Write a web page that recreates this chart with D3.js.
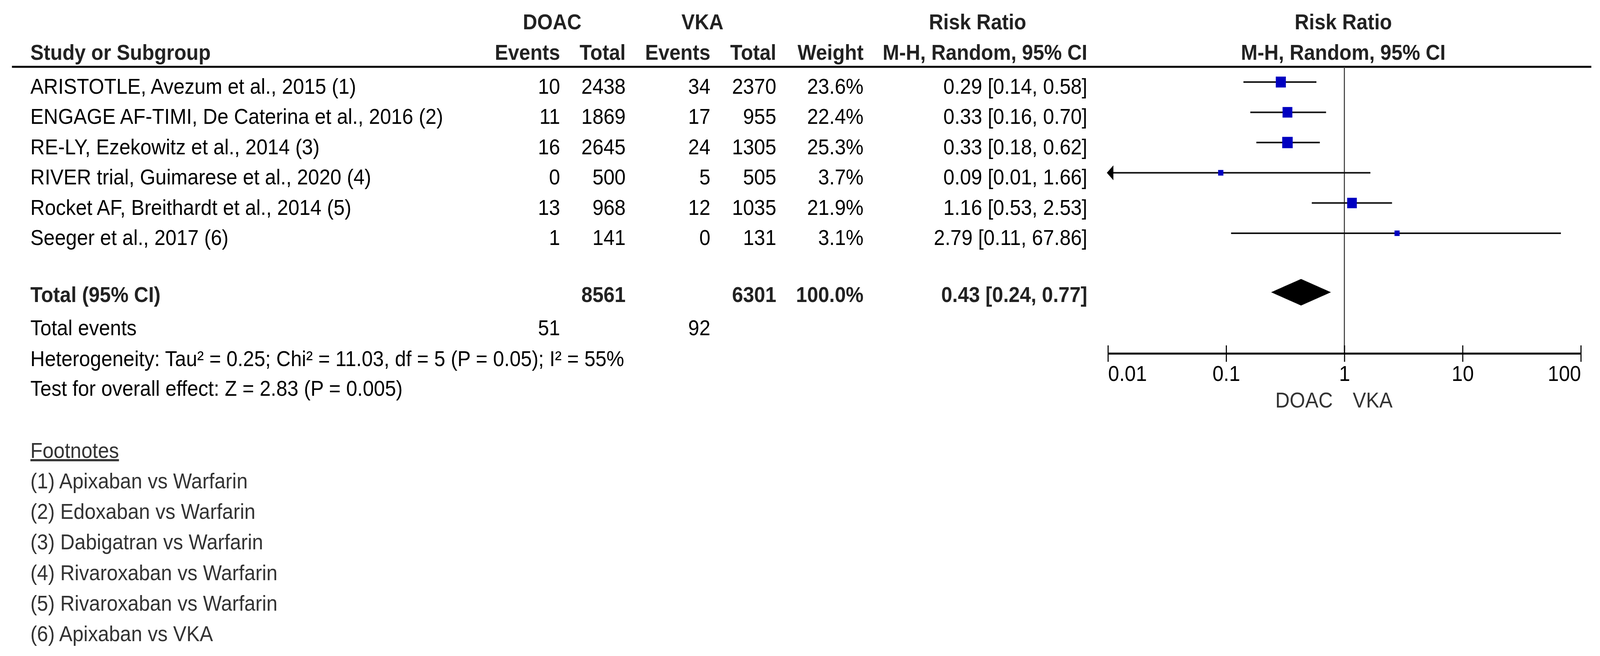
<!DOCTYPE html>
<html>
<head>
<meta charset="utf-8">
<script src="https://cdn.jsdelivr.net/npm/d3@7"></script>
<style>
  html, body { margin: 0; padding: 0; background: #fff; overflow: hidden; width: 100%; height: 100%; }
  #chart { width: 100vw; height: 100vh; }
  svg { display: block; }
  svg text { font-family: "Liberation Sans", Arial, sans-serif; font-size: 55px; fill: #000; }
  svg text.bold { font-weight: bold; fill: #222; }
  svg text.note { fill: #333; }
</style>
</head>
<body>
<div id="chart"></div>
<script>
const studies = [
  "ARISTOTLE, Avezum et al., 2015 (1)",
  "ENGAGE AF-TIMI, De Caterina et al., 2016 (2)",
  "RE-LY, Ezekowitz et al., 2014 (3)",
  "RIVER trial, Guimarese et al., 2020 (4)",
  "Rocket AF, Breithardt et al., 2014 (5)",
  "Seeger et al., 2017 (6)"
];
const doacEvents = [10, 11, 16, 0, 13, 1];
const doacTotal = [2438, 1869, 2645, 500, 968, 141];
const vkaEvents = [34, 17, 24, 5, 12, 0];
const vkaTotal = [2370, 955, 1305, 505, 1035, 131];
const weights = [23.6, 22.4, 25.3, 3.7, 21.9, 3.1];
const rr = [0.29, 0.33, 0.33, 0.09, 1.16, 2.79];
const rrLow = [0.14, 0.16, 0.18, 0.01, 0.53, 0.11];
const rrHigh = [0.58, 0.70, 0.62, 1.66, 2.53, 67.86];

const pooled = { rr: 0.43, low: 0.24, high: 0.77 };
const totalDoac = 8561, totalVka = 6301, totalWeight = "100.0%";
const eventsDoac = 51, eventsVka = 92;

const axisTicks = [0.01, 0.1, 1, 10, 100];
const heterogeneity = "Heterogeneity: Tau² = 0.25; Chi² = 11.03, df = 5 (P = 0.05); I² = 55%";
const overallEffect = "Test for overall effect: Z = 2.83 (P = 0.005)";
const footnotes = [
  "(1) Apixaban vs Warfarin",
  "(2) Edoxaban vs Warfarin",
  "(3) Dabigatran vs Warfarin",
  "(4) Rivaroxaban vs Warfarin",
  "(5) Rivaroxaban vs Warfarin",
  "(6) Apixaban vs VKA"
];

const W = 4419, H = 1679;
// drawn in reference pixel units, scaled to whatever the viewport is
const svg = d3.select("#chart").append("svg")
  .attr("viewBox", `0 0 ${W} ${H}`)
  .attr("preserveAspectRatio", "none")
  .attr("width", "100%").attr("height", "100%");
svg.append("rect").attr("width", W).attr("height", H).attr("fill", "#fff");

// column anchors (start for names, right edges for numbers)
const col = { name: 84, de: 1547, dt: 1728, ve: 1962, vt: 2144, w: 2385, rr: 3003 };

const x = d3.scaleLog().domain([0.01, 100]).range([3060, 4366]);
const y = d3.scaleLinear().domain([0, 5]).range([210, 597]);
const boxSize = d3.scaleLinear().domain([0, 25.3]).range([12, 29]);

const fmt2 = d3.format(".2f");
const ciText = (m, l, h) => `${fmt2(m)} [${fmt2(l)}, ${fmt2(h)}]`;

function txt(xp, yp, s, anchor, cls) {
  return svg.append("text")
    .attr("x", xp).attr("y", yp)
    .attr("text-anchor", anchor || "start")
    .attr("class", cls || null)
    .text(s);
}

// header
txt(1525, 75, "DOAC", "middle", "bold");
txt(1940, 75, "VKA", "middle", "bold");
txt(2700, 75, "Risk Ratio", "middle", "bold");
txt(3710, 75, "Risk Ratio", "middle", "bold");
txt(col.name, 153, "Study or Subgroup", "start", "bold");
txt(col.de, 153, "Events", "end", "bold");
txt(col.dt, 153, "Total", "end", "bold");
txt(col.ve, 153, "Events", "end", "bold");
txt(col.vt, 153, "Total", "end", "bold");
txt(col.w, 153, "Weight", "end", "bold");
txt(col.rr, 153, "M-H, Random, 95% CI", "end", "bold");
txt(3710, 153, "M-H, Random, 95% CI", "middle", "bold");

svg.append("line")
  .attr("x1", 33).attr("x2", 4395)
  .attr("y1", 171).attr("y2", 171)
  .attr("stroke", "#000").attr("stroke-width", 5);

// line of no effect
svg.append("line")
  .attr("x1", x(1)).attr("x2", x(1))
  .attr("y1", 171).attr("y2", 905)
  .attr("stroke", "#444").attr("stroke-width", 3);

// study rows
studies.forEach((s, i) => {
  const yb = y(i) + 30;
  txt(col.name, yb, s);
  txt(col.de, yb, doacEvents[i], "end");
  txt(col.dt, yb, doacTotal[i], "end");
  txt(col.ve, yb, vkaEvents[i], "end");
  txt(col.vt, yb, vkaTotal[i], "end");
  txt(col.w, yb, weights[i].toFixed(1) + "%", "end");
  txt(col.rr, yb, ciText(rr[i], rrLow[i], rrHigh[i]), "end");
});

const rows = svg.append("g");
rows.selectAll("line.ci")
  .data(studies.map((s, i) => i))
  .join("line")
  .attr("class", "ci")
  .attr("x1", i => x(Math.max(rrLow[i], 0.01)) + (rrLow[i] <= 0.01 ? 14 : 0))
  .attr("x2", i => x(Math.min(rrHigh[i], 100)))
  .attr("y1", i => y(i)).attr("y2", i => y(i))
  .attr("stroke", "#111").attr("stroke-width", 4);

// arrow where CI runs off the axis
studies.forEach((s, i) => {
  if (rrLow[i] <= 0.01) {
    const x0 = x(0.01) - 3, yc = y(i);
    rows.append("path")
      .attr("d", `M${x0},${yc} L${x0 + 18},${yc - 19} L${x0 + 18},${yc + 19} Z`)
      .attr("fill", "#000");
  }
});

rows.selectAll("rect.box")
  .data(studies.map((s, i) => i))
  .join("rect")
  .attr("class", "box")
  .attr("x", i => x(rr[i]) - boxSize(weights[i]) / 2)
  .attr("y", i => y(i) - boxSize(weights[i]) / 2)
  .attr("width", i => boxSize(weights[i]))
  .attr("height", i => boxSize(weights[i]))
  .attr("fill", "#0000c0");

// pooled row
const yTot = 748;
txt(col.name, 773, "Total (95% CI)", "start", "bold");
txt(col.dt, 773, totalDoac, "end", "bold");
txt(col.vt, 773, totalVka, "end", "bold");
txt(col.w, 773, totalWeight, "end", "bold");
txt(col.rr, 773, ciText(pooled.rr, pooled.low, pooled.high), "end", "bold");
svg.append("path")
  .attr("d", `M${x(pooled.low)},${yTot} L${x(pooled.rr)},${yTot - 34} L${x(pooled.high)},${yTot} L${x(pooled.rr)},${yTot + 34} Z`)
  .attr("fill", "#000");

txt(col.name, 858, "Total events");
txt(col.de, 858, eventsDoac, "end");
txt(col.ve, 858, eventsVka, "end");
txt(col.name, 937, heterogeneity);
txt(col.name, 1013, overallEffect);

// axis
const axis = d3.axisBottom(x)
  .tickValues(axisTicks)
  .tickFormat(d => d >= 1 ? d3.format("d")(d) : String(d))
  .tickSize(21)
  .tickPadding(6);
const gAxis = svg.append("g")
  .attr("transform", "translate(0,905)")
  .call(axis);
gAxis.attr("font-size", null).attr("font-family", null);
gAxis.select(".domain")
  .attr("d", `M${x(0.01)},0H${x(100)}`)
  .attr("stroke", "#000").attr("stroke-width", 5);
gAxis.selectAll(".tick line")
  .attr("y1", -21).attr("y2", 21)
  .attr("stroke", "#000").attr("stroke-width", 3);
gAxis.selectAll(".tick text")
  .attr("y", 70).attr("dy", null)
  .attr("fill", "#000")
  .attr("text-anchor", (d, i) => i === 0 ? "start" : (i === axisTicks.length - 1 ? "end" : "middle"));

txt(x(1) - 32, 1043, "DOAC", "end", "note");
txt(x(1) + 23, 1043, "VKA", "start", "note");

// footnotes
txt(col.name, 1172, "Footnotes", "start", "note").attr("text-decoration", "underline");
footnotes.forEach((f, i) => txt(col.name, 1250 + i * 78.2, f, "start", "note"));
</script>
</body>
</html>
